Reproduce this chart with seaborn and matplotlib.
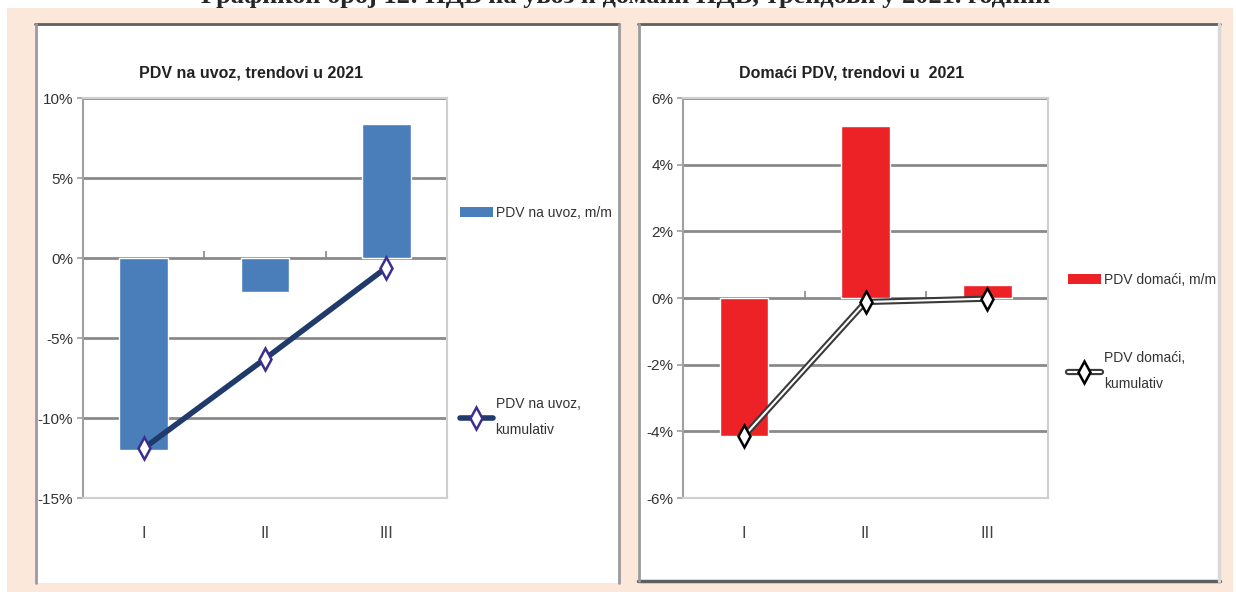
import numpy as np
import pandas as pd
import matplotlib
matplotlib.use('Agg')
import matplotlib.pyplot as plt
from matplotlib.patches import Rectangle, Patch
from matplotlib.lines import Line2D
from matplotlib.ticker import FuncFormatter
import seaborn as sns

# data
months = ['I', 'II', 'III']
uvoz_mm = [-12.0, -2.1, 8.4]
uvoz_kum = [-11.9, -6.3, -0.6]
domaci_mm = [-4.15, 5.15, 0.4]
domaci_kum = [-4.15, -0.12, -0.02]

header = 'Графикон број 12: ПДВ на увоз и домаћи ПДВ, трендови у 2021. години'
title_left = 'PDV na uvoz, trendovi u 2021'
title_right = 'Domaći PDV, trendovi u  2021'

sns.set_style('white')
plt.rcParams['font.family'] = ['Liberation Sans Narrow', 'DejaVu Sans Condensed',
                               'Liberation Sans', 'DejaVu Sans']

W, H = 1236, 592
fig = plt.figure(figsize=(W / 100, H / 100), dpi=100, facecolor='white')

def fx(px):
    return px / W

def fy(py):
    return 1 - py / H

peach = '#FCE8DA'
fig.patches.append(Rectangle((fx(7), fy(592)), fx(1233 - 7), 1 - 8 / H,
                             transform=fig.transFigure, facecolor=peach,
                             edgecolor='none', zorder=-3))
# white panels
for x0, x1, y0, y1 in [(35, 619, 23, 583), (638, 1220, 23, 582)]:
    fig.patches.append(Rectangle((fx(x0), fy(y1)), fx(x1 - x0), (y1 - y0) / H,
                                 transform=fig.transFigure, facecolor='white',
                                 edgecolor='none', zorder=-2))

def fline(xs, ys, color, lw):
    fig.lines.append(Line2D([fx(v) for v in xs], [fy(v) for v in ys],
                            transform=fig.transFigure, color=color, lw=lw, zorder=-1))

fline([35, 619], [24, 24], '#5f5f5f', 2)
fline([36, 36], [24, 583], '#9a9a9a', 2)
fline([619, 619], [24, 583], '#9a9a9a', 2)
fline([638, 1220], [24, 24], '#5f5f5f', 2)
fline([638, 1220], [581, 581], '#5f5f5f', 2.5)
fline([639, 639], [24, 581], '#9a9a9a', 2)
fline([1219, 1219], [24, 581], '#d8d8d8', 2.5)

fig.text(0.506, fy(-4), header, ha='center', va='center', fontsize=19,
         fontweight='bold', family=['Liberation Serif', 'DejaVu Serif'], zorder=5)

ax1 = fig.add_axes([fx(83), fy(498), fx(364), 400 / H])
ax2 = fig.add_axes([fx(683), fy(498), fx(365), 400 / H])

df1 = pd.DataFrame({'mes': months, 'mm': uvoz_mm, 'kum': uvoz_kum})
df2 = pd.DataFrame({'mes': months, 'mm': domaci_mm, 'kum': domaci_kum})

blue = '#4A7EBB'
red = '#EC2227'

sns.barplot(data=df1, x='mes', y='mm', order=months, color=blue, width=0.4,
            saturation=1, ax=ax1)
sns.pointplot(data=df1, x='mes', y='kum', order=months, color='#1F3A6B',
              errorbar=None, marker='d', markersize=11, linewidth=4,
              markerfacecolor='white', markeredgecolor='#3B2E8E',
              markeredgewidth=1.8, ax=ax1)

sns.barplot(data=df2, x='mes', y='mm', order=months, color=red, width=0.4,
            saturation=1, ax=ax2)
sns.pointplot(data=df2, x='mes', y='kum', order=months, color='#3a3a3a',
              errorbar=None, marker='', linewidth=4.5, ax=ax2)
sns.pointplot(data=df2, x='mes', y='kum', order=months, color='white',
              errorbar=None, marker='d', markersize=11, linewidth=1.5,
              markerfacecolor='white', markeredgecolor='black',
              markeredgewidth=1.8, ax=ax2)

pct = FuncFormatter(lambda v, p: f'{v:.0f}%')

for ax, ylim, step, title, tx in [(ax1, (-15, 10), 5, title_left, 251),
                                  (ax2, (-6, 6), 2, title_right, 852)]:
    ax.set_ylim(*ylim)
    ax.set_xlim(-0.5, 2.5)
    ax.set_yticks(np.arange(ylim[0], ylim[1] + 0.1, step))
    ax.yaxis.set_major_formatter(pct)
    ax.set_axisbelow(True)
    ax.yaxis.grid(True, color='#8a8a8a', lw=2)
    ax.set_xlabel('')
    ax.set_ylabel('')
    ax.set_facecolor('none')
    for s in ['top', 'right', 'bottom']:
        ax.spines[s].set_color('#cfcfcf')
        ax.spines[s].set_linewidth(1.5)
    ax.spines['left'].set_color('#a0a0a0')
    ax.spines['left'].set_linewidth(1.5)
    ax.tick_params(axis='y', length=4, width=1.2, color='#a0a0a0',
                   labelsize=11, labelcolor='#333333', left=True, pad=3)
    ax.tick_params(axis='x', length=0, labelsize=12, labelcolor='#444444', pad=20)
    # category axis sits on the 0 line
    frac = (0 - ylim[0]) / (ylim[1] - ylim[0])
    sec = ax.secondary_xaxis(frac)
    sec.set_xticks([])
    sec.set_xticks([0.5, 1.5], minor=True)
    sec.tick_params(which='minor', length=5, width=1.2, color='#888888')
    sec.spines['bottom'].set_color('#888888')
    sec.spines['bottom'].set_linewidth(2)
    fig.text(fx(tx), fy(73), title, ha='center', va='center', fontsize=11.5,
             fontweight='bold', color='#222222')

# legends
h_bar1 = Patch(facecolor=blue, edgecolor='none')
h_line1 = Line2D([], [], color='#1F3A6B', lw=4, marker='d', markersize=11,
                 markerfacecolor='white', markeredgecolor='#3B2E8E', markeredgewidth=1.8)
h_bar2 = Patch(facecolor=red, edgecolor='none')
h_line2a = Line2D([], [], color='#3a3a3a', lw=4.5)
h_line2b = Line2D([], [], color='white', lw=1.5, marker='d', markersize=11,
                  markerfacecolor='white', markeredgecolor='black', markeredgewidth=1.8)

leg_kw = dict(frameon=False, loc='center left', fontsize=10, handlelength=2.4,
              handletextpad=0.2, labelcolor='#333333')
l1 = ax1.legend([h_bar1], ['PDV na uvoz, m/m'], bbox_to_anchor=(1.0, 0.7125), **leg_kw)
ax1.add_artist(l1)
ax1.legend([h_line1], ['PDV na uvoz,\nkumulativ'], bbox_to_anchor=(1.0, 0.2025), **leg_kw)
for t in ax1.get_legend().get_texts():
    t.set_linespacing(2.0)

l2 = ax2.legend([h_bar2], ['PDV domaći, m/m'], bbox_to_anchor=(1.02, 0.545), **leg_kw)
ax2.add_artist(l2)
ax2.legend([(h_line2a, h_line2b)], ['PDV domaći,\nkumulativ'],
           bbox_to_anchor=(1.02, 0.3175), **leg_kw)
for t in ax2.get_legend().get_texts():
    t.set_linespacing(2.0)

fig.savefig('out.png', dpi=100, facecolor='white')
